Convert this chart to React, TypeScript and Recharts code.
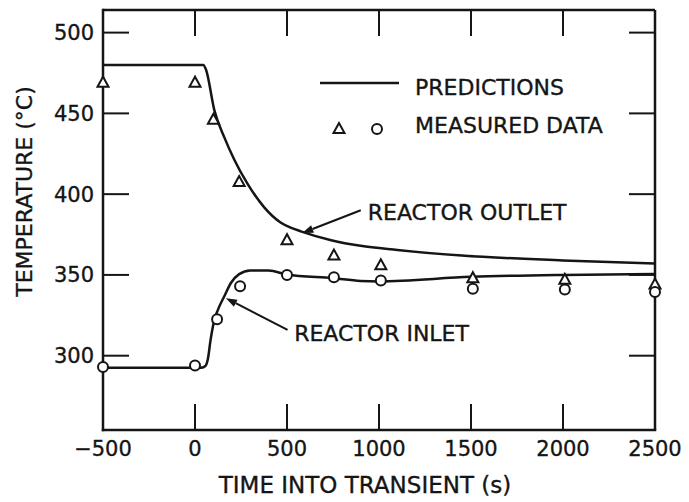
import {
  ComposedChart,
  Line,
  Scatter,
  XAxis,
  YAxis,
  ReferenceLine,
  ReferenceDot,
  Legend,
} from "recharts";

const FONT = "'DejaVu Sans', 'Liberation Sans', sans-serif";
const INK = "#151515";

// axis ticks
const timeTicks = [-500, 0, 500, 1000, 1500, 2000, 2500];
const tempTicks = [300, 350, 400, 450, 500];
const timeDomain = [-500, 2500];
const tempDomain = [254, 514];

// predicted curves
const outletTimes = [-500, 45, 60, 105, 160, 215, 285, 375, 465, 520, 575, 740, 900, 1100, 1450, 2000, 2500];
const outletTemps = [480, 480, 477, 452, 435, 421, 406.5, 392, 382.5, 379.3, 377, 371.5, 368, 365.5, 362, 359, 357];

const inletTimes = [-500, 30, 55, 70, 85, 105, 125, 160, 195, 240, 300, 400, 500, 750, 900, 1000, 1500, 2000, 2500];
const inletTemps = [292.5, 292.5, 293.5, 298, 310, 322, 328.5, 337, 345, 350.5, 352.8, 352.7, 350.3, 348, 346.3, 346, 348.8, 350, 350.5];

// measured data
const outletMeasTimes = [-500, 0, 100, 240, 500, 755, 1010, 1510, 2010, 2500];
const outletMeasTemps = [469, 469, 446, 407.5, 371.5, 362, 356, 348, 347, 344];
const inletMeasTimes = [-500, 0, 120, 245, 500, 755, 1010, 1510, 2010, 2500];
const inletMeasTemps = [293, 294, 322.5, 343, 350, 348.5, 346.5, 341.5, 341, 339.5];

const pair = (ts: number[], vs: number[]) => ts.map((t, i) => ({ t, v: vs[i] }));

const outletPred = pair(outletTimes, outletTemps);
const inletPred = pair(inletTimes, inletTemps);
const outletMeas = pair(outletMeasTimes, outletMeasTemps);
const inletMeas = pair(inletMeasTimes, inletMeasTemps);

// plot box in page pixels (chart sits at 0,0)
const PLOT = { left: 103, right: 655, top: 10, bottom: 430 };
const TICK_LEN = 26;

const txt = { fontFamily: FONT, fill: INK, stroke: INK, strokeWidth: 0.35 };

const fmt = (v: number) => String(v).replace("-", "\u2212");

// ticks point inward, and are mirrored on the top / right edges
const BottomTick = ({ x, y, payload }: any) => (
  <g>
    <line x1={x} y1={PLOT.bottom} x2={x} y2={PLOT.bottom - TICK_LEN} stroke={INK} strokeWidth={2} />
    <line x1={x} y1={PLOT.top} x2={x} y2={PLOT.top + TICK_LEN} stroke={INK} strokeWidth={2} />
    <text x={x} y={y} dy="0.71em" textAnchor="middle" fontSize={21} {...txt}>
      {fmt(payload.value)}
    </text>
  </g>
);

const LeftTick = ({ x, y, payload }: any) => (
  <g>
    <line x1={PLOT.left} y1={y} x2={PLOT.left + TICK_LEN} y2={y} stroke={INK} strokeWidth={2} />
    <line x1={PLOT.right} y1={y} x2={PLOT.right - TICK_LEN} y2={y} stroke={INK} strokeWidth={2} />
    <text x={x} y={y} dy="0.36em" textAnchor="end" fontSize={21} {...txt}>
      {payload.value}
    </text>
  </g>
);

const Tri = ({ cx, cy }: any) => (
  <polygon
    points={`${cx},${cy - 6} ${cx - 5.5},${cy + 4} ${cx + 5.5},${cy + 4}`}
    fill="#fff"
    stroke={INK}
    strokeWidth={2}
  />
);

const Circ = ({ cx, cy }: any) => (
  <circle cx={cx} cy={cy} r={5} fill="#fff" stroke={INK} strokeWidth={2} />
);

const Arrow = ({ x1, y1, x2, y2 }: any) => {
  const a = Math.atan2(y2 - y1, x2 - x1);
  const L = 11, W = 4;
  const bx = x2 - L * Math.cos(a), by = y2 - L * Math.sin(a);
  const px = -Math.sin(a) * W, py = Math.cos(a) * W;
  return (
    <g>
      <line x1={x1} y1={y1} x2={bx} y2={by} stroke={INK} strokeWidth={2} />
      <polygon points={`${x2},${y2} ${bx + px},${by + py} ${bx - px},${by - py}`} fill={INK} />
    </g>
  );
};

const noteText = (label: string) => ({ cx, cy }: any) => (
  <text x={cx} y={cy} dy="0.36em" fontSize={22} {...txt}>
    {label}
  </text>
);

const LegendBox = () => (
  <svg width={330} height={80}>
    <line x1={2} y1={13} x2={81} y2={13} stroke={INK} strokeWidth={2.5} />
    <text x={97} y={25} fontSize={22} {...txt}>PREDICTIONS</text>
    <Tri cx={21} cy={59} />
    <Circ cx={59} cy={59} />
    <text x={97} y={63} fontSize={22} {...txt}>MEASURED DATA</text>
  </svg>
);

const axisLine = { stroke: INK, strokeWidth: 2.5, strokeLinecap: "square" as const };

export default function App() {
  return (
    <div style={{ position: "absolute", left: 0, top: 0, background: "#fff" }}>
      <ComposedChart
        width={689}
        height={502}
        margin={{ top: PLOT.top, right: 689 - PLOT.right, bottom: 0, left: PLOT.left - 80 }}
      >
        <XAxis
          dataKey="t"
          type="number"
          domain={timeDomain}
          ticks={timeTicks}
          interval={0}
          height={502 - PLOT.bottom}
          tickSize={0}
          tickMargin={11}
          tick={<BottomTick />}
          tickLine={false}
          axisLine={axisLine}
          label={{
            content: ({ viewBox }: any) => (
              <text
                x={viewBox.x + viewBox.width / 2 - 14}
                y={viewBox.y + 55}
                dy="0.36em"
                textAnchor="middle"
                fontSize={23}
                {...txt}
              >
                TIME INTO TRANSIENT (s)
              </text>
            ),
          }}
        />
        <YAxis
          dataKey="v"
          type="number"
          domain={tempDomain}
          ticks={tempTicks}
          interval={0}
          width={80}
          tickSize={0}
          tickMargin={9}
          tick={<LeftTick />}
          tickLine={false}
          axisLine={axisLine}
          label={{
            content: ({ viewBox }: any) => {
              const cx = viewBox.x + 1;
              const cy = viewBox.y + viewBox.height / 2 - 28.5;
              return (
                <text
                  x={cx}
                  y={cy}
                  dy="0.36em"
                  textAnchor="middle"
                  transform={`rotate(-90, ${cx}, ${cy})`}
                  fontSize={22}
                  {...txt}
                >
                  TEMPERATURE (°C)
                </text>
              );
            },
          }}
        />
        {/* top and right edges of the frame */}
        <ReferenceLine y={tempDomain[1]} stroke={INK} strokeWidth={2.5} />
        <ReferenceLine x={timeDomain[1]} stroke={INK} strokeWidth={2.5} />
        <Legend
          layout="horizontal"
          verticalAlign="middle"
          align="center"
          content={() => <LegendBox />}
          wrapperStyle={{ left: 318, top: 70, width: 330, height: 80 }}
        />
        <Line data={outletPred} dataKey="v" type="monotone" stroke={INK} strokeWidth={2.5} dot={false} isAnimationActive={false} />
        <Line data={inletPred} dataKey="v" type="monotone" stroke={INK} strokeWidth={2.5} dot={false} isAnimationActive={false} />
        <Scatter data={outletMeas} dataKey="v" shape={(p: any) => <Tri cx={p.cx} cy={p.cy} />} isAnimationActive={false} />
        <Scatter data={inletMeas} dataKey="v" shape={(p: any) => <Circ cx={p.cx} cy={p.cy} />} isAnimationActive={false} />
        <ReferenceLine segment={[{ x: 901, y: 390 }, { x: 583, y: 376 }]} shape={(p: any) => <Arrow {...p} />} />
        <ReferenceLine segment={[{ x: 503, y: 316 }, { x: 168, y: 335.6 }]} shape={(p: any) => <Arrow {...p} />} />
        <ReferenceDot x={939} y={388.6} r={0} shape={noteText("REACTOR OUTLET")} />
        <ReferenceDot x={539} y={314.2} r={0} shape={noteText("REACTOR INLET")} />
      </ComposedChart>
    </div>
  );
}
